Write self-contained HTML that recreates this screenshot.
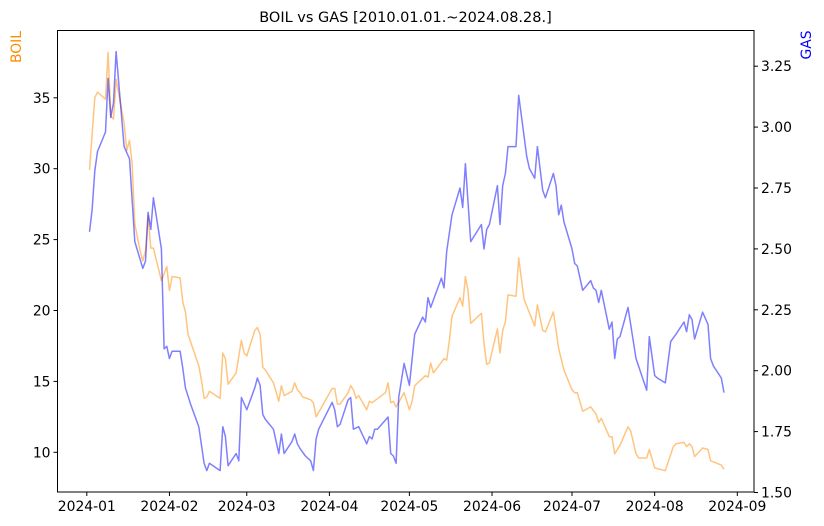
<!DOCTYPE html>
<html><head><meta charset="utf-8"><style>
html,body{margin:0;padding:0;background:#fff;}
svg{display:block;font-family:"DejaVu Sans","Liberation Sans",sans-serif;}
</style></head><body>
<svg id="chart" width="824" height="526" viewBox="0 0 824 526" xmlns="http://www.w3.org/2000/svg">
<rect width="824" height="526" fill="#fff"/>
<text x="405.5" y="22" text-anchor="middle" font-size="14.5" fill="#000">BOIL vs GAS [2010.01.01.~2024.08.28.]</text>
<text transform="translate(21,47) rotate(-90)" text-anchor="middle" font-size="13.9" fill="darkorange">BOIL</text>
<text transform="translate(811,45) rotate(-90)" text-anchor="middle" font-size="13.9" fill="blue">GAS</text>
<g id="marks"></g>
<g id="axes"></g>
</svg>
<script>
const xTickLabels = ["2024-01","2024-02","2024-03","2024-04","2024-05","2024-06","2024-07","2024-08","2024-09"];
const xTickDays = [0,31,60,91,121,152,182,213,244];
const leftTicks = [10,15,20,25,30,35];
const rightTicks = [1.50,1.75,2.00,2.25,2.50,2.75,3.00,3.25];
const boilDays = [1,3,4,7,8,9,10,11,14,15,16,17,18,20,21,22,23,24,25,28,30,31,32,35,36,37,38,42,43,44,45,46,50,51,52,53,56,58,59,60,63,64,65,66,67,70,72,73,74,77,78,79,80,81,84,85,86,92,93,94,95,98,99,100,101,102,105,106,107,112,113,114,115,116,119,121,122,123,127,128,129,130,134,135,136,137,140,141,142,143,144,148,149,150,151,154,155,156,157,158,161,162,164,168,169,171,172,175,177,179,182,183,184,186,189,191,192,193,196,197,198,200,203,204,206,207,210,211,213,217,220,221,224,225,226,227,228,231,233,234,238,239];
const boilValues = [29.9,35.0,35.4,34.9,38.2,33.7,33.5,36.3,33.2,31.3,32.0,30.4,26.1,24.2,23.5,24.2,26.7,24.4,24.4,22.1,23.1,21.4,22.4,22.3,20.6,19.9,18.3,16.1,15.1,13.8,13.9,14.3,13.8,17.0,16.6,14.8,15.6,17.9,17.0,16.8,18.6,18.8,18.3,16.0,15.8,14.9,13.6,14.7,14.0,14.3,14.9,14.4,14.2,13.9,13.7,13.5,12.5,14.5,14.5,13.4,13.4,14.2,14.7,14.4,13.8,14.0,13.0,13.6,13.5,14.2,14.9,13.5,13.6,13.2,14.2,13.0,13.6,14.7,15.4,15.3,16.3,15.6,16.6,16.5,17.9,19.6,20.9,20.3,22.4,21.4,19.1,19.8,17.7,16.2,16.3,18.7,17.0,18.6,19.2,21.1,21.0,23.7,20.8,18.9,20.4,18.6,18.5,19.9,17.3,15.8,14.4,14.2,14.2,12.9,13.2,12.7,12.1,12.4,11.1,11.1,9.9,10.5,11.8,11.5,9.9,9.6,9.6,10.2,8.9,8.7,10.4,10.6,10.7,10.4,10.6,10.4,9.7,10.3,10.2,9.4,9.1,8.8];
const gasDays = [1,2,3,4,7,8,9,10,11,14,16,18,21,22,23,24,25,28,29,30,31,32,35,36,37,39,42,44,45,46,50,51,52,53,56,57,58,60,63,64,65,66,67,70,72,73,74,77,78,79,80,82,84,85,86,87,92,93,94,95,98,99,100,102,105,106,107,108,109,113,114,115,116,117,119,121,123,126,127,128,129,133,134,135,137,140,141,142,144,148,149,150,151,154,155,156,157,158,161,162,165,166,168,169,171,172,175,176,177,178,179,182,183,184,186,189,190,191,192,193,196,197,198,199,200,203,206,210,211,213,214,217,219,221,224,225,226,227,228,231,233,234,235,238,239];
const gasValues = [2.57,2.66,2.82,2.90,2.98,3.20,3.04,3.10,3.31,2.92,2.87,2.53,2.42,2.45,2.65,2.58,2.71,2.50,2.09,2.10,2.05,2.08,2.08,2.01,1.93,1.86,1.77,1.62,1.59,1.62,1.59,1.77,1.73,1.61,1.66,1.63,1.89,1.84,1.93,1.97,1.94,1.82,1.80,1.76,1.66,1.74,1.66,1.71,1.74,1.70,1.68,1.65,1.63,1.59,1.72,1.76,1.87,1.84,1.77,1.78,1.88,1.89,1.76,1.77,1.70,1.73,1.72,1.76,1.76,1.81,1.66,1.65,1.62,1.89,2.03,1.94,2.15,2.22,2.20,2.30,2.26,2.38,2.34,2.49,2.64,2.75,2.67,2.85,2.53,2.60,2.50,2.58,2.60,2.76,2.60,2.76,2.81,2.92,2.92,3.13,2.88,2.83,2.79,2.92,2.74,2.71,2.81,2.76,2.64,2.68,2.61,2.50,2.44,2.43,2.33,2.37,2.34,2.33,2.28,2.33,2.17,2.20,2.05,2.13,2.14,2.26,2.05,1.92,2.14,1.98,1.97,1.95,2.12,2.15,2.20,2.16,2.23,2.21,2.13,2.24,2.19,2.05,2.02,1.97,1.91];

const L=57.5,R=754,T=30.5,B=492;
const xScale = d => 86.8 + d*2.666;
const yLeft = v => 452.3 - (v-10)*14.18;
const yRight = v => 370.7 - (v-2)*243.6;
const NS="http://www.w3.org/2000/svg";
const marks=document.getElementById('marks');
const axes=document.getElementById('axes');
function mk(tag,attrs,parent){const e=document.createElementNS(NS,tag);for(const k in attrs)e.setAttribute(k,attrs[k]);parent.appendChild(e);return e;}

const boilPts = boilDays.map((d,i)=>xScale(d).toFixed(1)+','+yLeft(boilValues[i]).toFixed(1)).join(' ');
const boilLine = mk('polyline',{points:boilPts,fill:'none',stroke:'darkorange','stroke-opacity':'0.5','stroke-width':'1.5','stroke-linejoin':'round'},marks);


const gasPts = gasDays.map((d,i)=>xScale(d).toFixed(1)+','+yRight(gasValues[i]).toFixed(1)).join(' ');
const gasLine = mk('polyline',{points:gasPts,fill:'none',stroke:'blue','stroke-opacity':'0.5','stroke-width':'1.5','stroke-linejoin':'round'},marks);



const frame = mk('rect',{x:L,y:T,width:R-L,height:B-T,fill:'none',stroke:'#000','stroke-width':'1'},axes);



xTickDays.forEach((d,i)=>{
  const x=xScale(d);
  mk('line',{x1:x,x2:x,y1:B,y2:B+4,stroke:'#000'},axes);
  const t=mk('text',{x:x,y:B+19,'text-anchor':'middle','font-size':'13.9',fill:'#000'},axes);
  t.textContent=xTickLabels[i];
  
  
});
leftTicks.forEach(v=>{
  const y=yLeft(v);
  mk('line',{x1:L-4,x2:L,y1:y,y2:y,stroke:'#000'},axes);
  const t=mk('text',{x:L-7,y:y+5,'text-anchor':'end','font-size':'13.9',fill:'#000'},axes);
  t.textContent=String(v);
  
  
});
rightTicks.forEach(v=>{
  const y=yRight(v);
  mk('line',{x1:R,x2:R+4,y1:y,y2:y,stroke:'#000'},axes);
  const t=mk('text',{x:R+7,y:y+5,'text-anchor':'start','font-size':'13.9',fill:'#000'},axes);
  t.textContent=v.toFixed(2);
  
  
});
</script>
</body></html>
